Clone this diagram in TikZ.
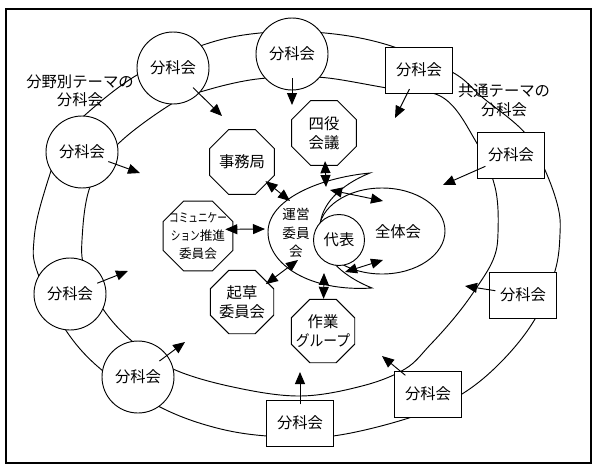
\documentclass[tikz,border=0pt]{standalone}
\usepackage{graphicx}
\usepackage{fontspec}
\setmainfont{Noto Sans CJK JP}
\usetikzlibrary{arrows.meta,calc,shapes.geometric}
\begin{document}
\begin{tikzpicture}[x=0.75pt,y=-0.75pt,
  line width=0.7pt,
  every node/.style={font=\fontsize{11.5}{14}\selectfont, align=center, inner sep=0pt},
  circn/.style={circle, draw, fill=white, minimum size=54pt},
  boxn/.style={rectangle, draw, fill=white, minimum width=50pt, minimum height=34.5pt},
  octn/.style={regular polygon, regular polygon sides=8, draw, minimum size=#1},
  octn/.default=52.5pt,
  arr/.style={-{Triangle[length=9pt,width=7.5pt]}},
  darr/.style={{Triangle[length=9pt,width=7.5pt]}-{Triangle[length=9pt,width=7.5pt]}},
]
\useasboundingbox (0,0) rectangle (595,468);
\draw[line width=1.1pt] (6,9) rectangle (591,463);

% ring
\draw plot[smooth cycle, tension=0.6] coordinates {
 (203,45) (260,33) (325,33) (388,45) (452,72) (482,97) (525,133) (545,170)
 (558,207) (560,234) (555,271) (535,319) (502,361) (462,394) (412,417)
 (333,436) (267,436) (213,427) (160,407) (103,371) (65,329) (37,271)
 (34,240) (42,200) (63,140) (85,115) (137,75)};
\draw plot[smooth cycle, tension=0.6] coordinates {
 (207,90) (250,80) (289,77) (328,78) (387,88) (442,97) (475,140) (495,187)
 (498,233) (493,260) (475,290) (455,317) (430,345) (405,369) (362,386)
 (300,396) (233,387) (173,369) (133,342) (103,309) (85,270) (82,240)
 (90,187) (117,145) (173,103)};

% ring nodes
\node[circn] (c1) at (173,68) {分科会};
\node[circn] (c2) at (292,54) {分科会};
\node[circn] (c3) at (82,152) {分科会};
\node[circn] (c4) at (70,294) {分科会};
\node[circn] (c5) at (138,377) {分科会};
\node[boxn] (b1) at (419,70) {分科会};
\node[boxn] (b2) at (511,155) {分科会};
\node[boxn] (b3) at (523,295) {分科会};
\node[boxn] (b4) at (428,394) {分科会};
\node[boxn] (b5) at (300,423) {分科会};

\node (l1) at (80,91) {分野別テーマの\\分科会};
\node (l2) at (504,100) {共通テーマの\\分科会};

% centre
\draw (370,173) .. controls (318,178) and (268,200) .. (268,232)
  .. controls (268,265) and (310,292) .. (372,288)
  .. controls (340,275) and (320,255) .. (320,228)
  .. controls (320,205) and (340,185) .. cycle;
\node[ellipse, draw, minimum width=94.5pt, minimum height=64.5pt] (zt) at (382,231) {};
\node (ztl) at (398,232) {全体会};
\node[circle, draw, fill=white, minimum size=38.25pt] (db) at (339,240) {代表};
\node[font=\fontsize{10.2}{14}\selectfont] (un) at (296,233) {運営\\委員\\会};

\node[octn=52.5pt, label={center:四役\\会議}] (sy) at (324,133) {};
\node[octn=52.5pt, label={center:事務局}] (jm) at (242,162) {};
\node[octn=56.5pt, label={[font=\fontsize{9.5}{13.5}\selectfont]center:\scalebox{0.76}[1]{コミュニケー}\\\scalebox{0.76}[1]{ション}推進\\委員会}] (cm) at (198,236) {};
\node[octn=51.5pt, label={center:起草\\委員会}] (kz) at (242,302) {};
\node[octn=51.5pt, label={center:作業\\\scalebox{0.9}[1]{グループ}}] (sg) at (323,331) {};

% arrow ends
\coordinate (tc1) at (222,116);
\coordinate (tc2) at (292,105);
\coordinate (tc3) at (140,173);
\coordinate (tc4) at (128,271);
\coordinate (tc5) at (185,342);
\coordinate (tb1) at (395,118);
\coordinate (tb2) at (443,185);
\coordinate (tb3) at (465,286);
\coordinate (tb4) at (382,356);
\coordinate (tb5) at (300,372);
\coordinate (u1) at (290,201);
\coordinate (u2) at (265,229);
\coordinate (u3) at (298,260);
\coordinate (u4) at (326,187);
\coordinate (u5) at (324,273);
\coordinate (u6) at (330,190);
\coordinate (z6) at (383,201);
\coordinate (u7) at (345,272);
\coordinate (z7) at (383,260);

\draw[arr, shorten <=21pt] (c1.center) -- (tc1);
\draw[arr, shorten <=18pt] (c2.center) -- (tc2);
\draw[arr, shorten <=21pt] (c3.center) -- (tc3);
\draw[arr, shorten <=22pt] (c4.center) -- (tc4);
\draw[arr, shorten <=20pt] (c5.center) -- (tc5);
\draw[arr, shorten <=16pt] (b1.center) -- (tb1);
\draw[arr, shorten <=21pt] (b2.center) -- (tb2);
\draw[arr, shorten <=21pt] (b3.center) -- (tb3);
\draw[arr, shorten <=22pt] (b4.center) -- (tb4);
\draw[arr, shorten <=14pt] (b5.center) -- (tb5);

\draw[darr, shorten <=-2pt] (jm) -- (u1);
\draw[darr] ([shift={(-6pt,5pt)}]cm.east) -- (u2);
\draw[darr, shorten <=-2pt] (kz) -- (u3);
\draw[darr, shorten <=-3.5pt] (sy) -- (u4);
\draw[darr] (sg) -- (u5);
\draw[darr] (u6) -- (z6);
\draw[darr] (u7) -- (z7);
\end{tikzpicture}
\end{document}
